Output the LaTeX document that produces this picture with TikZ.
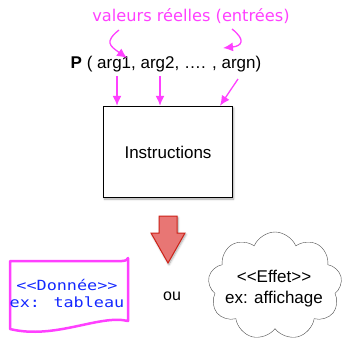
\documentclass[tikz,border=0pt]{standalone}
\usepackage{fontspec}
\setmainfont{Liberation Sans}
\newfontfamily\labelfont{DejaVu Sans}
\newfontfamily\codefont[FakeStretch=1.2]{DejaVu Sans Mono}
\usetikzlibrary{shapes.symbols,arrows.meta,calc,shadows.blur}

\definecolor{valmagenta}{RGB}{255,64,255}
\definecolor{codeblue}{RGB}{20,40,255}
\definecolor{bigarrowfill}{RGB}{232,118,116}
\definecolor{bigarrowdraw}{RGB}{205,35,25}

\tikzset{
  valarrow/.style={draw=valmagenta, line width=1.3pt, -{Latex[length=10pt,width=9pt]}},
  softshadow/.style={blur shadow={shadow xshift=1pt, shadow yshift=-1.5pt, shadow blur steps=6, shadow opacity=35}}
}

\begin{document}
\begin{tikzpicture}[x=1pt,y=-1pt]
  \useasboundingbox (0,0) rectangle (344,342);

  % Call with its actual values
  \node[text=valmagenta, font=\labelfont\fontsize{16.2}{18}\selectfont] (valeurs) at (191,16) {valeurs réelles (entrées)};
  \node[font=\fontsize{17}{20}\selectfont] (appel) at (166,64) {\textbf{P} ( arg1, arg2, …. , argn)};

  % Procedure body
  \node[draw, line width=1.5pt, fill=white, minimum width=129pt, minimum height=91pt, softshadow,
        font=\fontsize{17}{20}\selectfont] (instr) at (168,152) {Instructions};

  % Values going into the first and last argument
  \coordinate (v1) at (119,30);
  \coordinate (a1) at (127,58);
  \coordinate (vn) at (232,29);
  \coordinate (an) at (223,48);
  \draw[valarrow] (v1) .. controls (104,42) and (110,46) .. (a1);
  \draw[valarrow] (vn) .. controls (246,40) and (242,46) .. (an);

  % Arguments passed to the instructions
  \coordinate (p1) at (117,76);
  \coordinate (p2) at (160,76);
  \coordinate (pn) at (238,79);
  \coordinate (bn) at (220,106);
  \draw[valarrow] (p1) -- (p1 |- instr.north);
  \draw[valarrow] (p2) -- (p2 |- instr.north);
  \draw[valarrow] (pn) -- (bn |- instr.north);

  % Result arrow
  \draw[bigarrowdraw, fill=bigarrowfill, line width=1pt, softshadow]
    (159,216) -- (177,216) -- (177,233) -- (185,233) -- (168,263) -- (151,233) -- (159,233) -- cycle;

  % Data (document shape)
  \draw[valmagenta, line width=2.5pt, line join=round]
    (10,261) -- (122,261) .. controls (126,261) and (128,259) .. (128,258)
    -- (128,321) .. controls (100,314) and (55,340) .. (10,329) -- cycle;
  \node[text=codeblue, align=center, font=\codefont\fontsize{14}{17}\selectfont] (donnee) at (67,293)
    {<{}<Donnée>{}>\\ex: tableau};

  \node[font=\fontsize{16}{18}\selectfont] (ou) at (172,296) {ou};

  % Side effect
  \node[cloud, draw=black!70, cloud puffs=9, cloud puff arc=135, aspect=1.25, minimum width=134pt,
        minimum height=108pt, inner sep=0pt] (effetcloud) at (275,286) {};
  \node[align=center, font=\fontsize{17}{21}\selectfont] (effet) at (274,289)
    {<{}<Effet>{}>\\ex: affichage};
\end{tikzpicture}
\end{document}
